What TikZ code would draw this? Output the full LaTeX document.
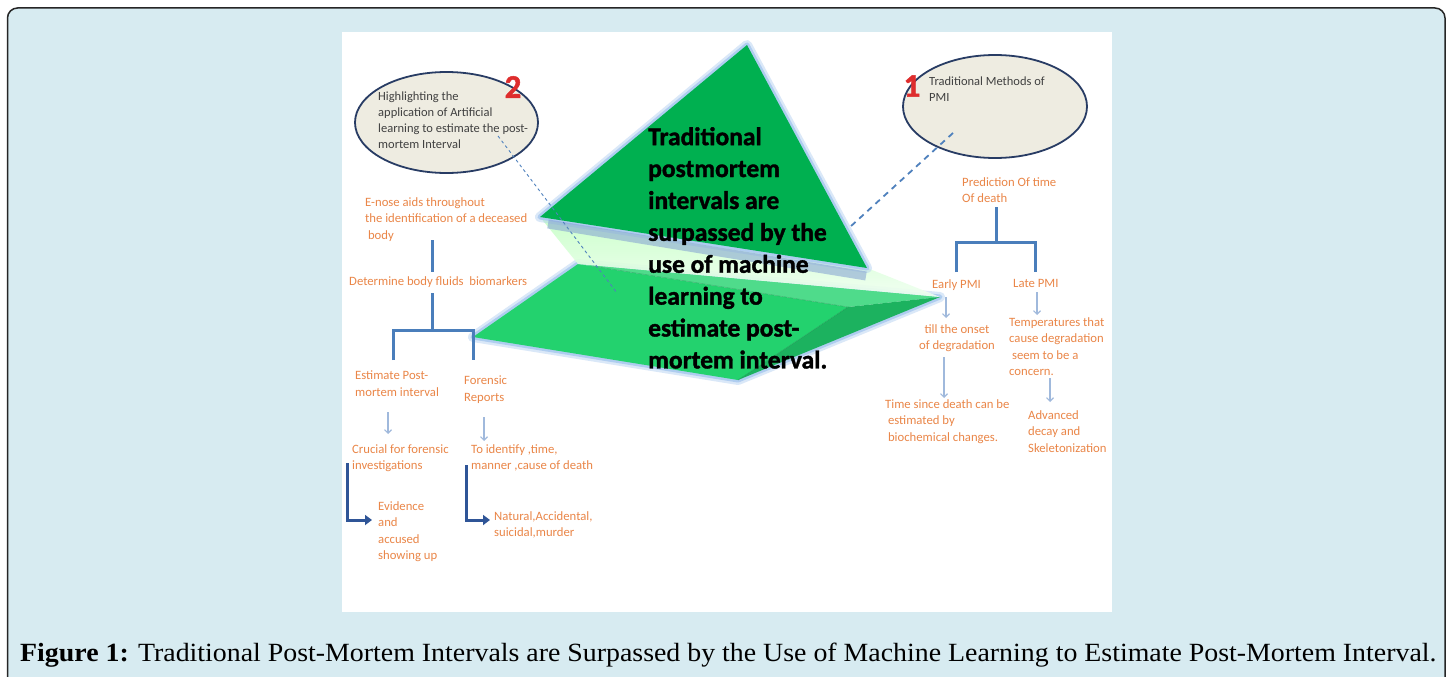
\documentclass[tikz,border=0pt]{standalone}
\usepackage{fontspec}
\setmainfont{Carlito}
\newfontfamily\msgfont{Carlito}[BoldFeatures={FakeBold=1.4}]
\newfontfamily\capfont{Liberation Serif}
\usepackage{graphicx}
\usetikzlibrary{arrows.meta,positioning,shapes.geometric}

\definecolor{framebg}{RGB}{215,235,241}
\definecolor{orangetxt}{RGB}{234,134,72}
\definecolor{bracketblue}{RGB}{74,126,187}
\definecolor{thinblue}{RGB}{160,185,220}
\definecolor{elbowblue}{RGB}{47,85,151}
\definecolor{ellfill}{RGB}{238,236,225}
\definecolor{elldraw}{RGB}{40,60,100}
\definecolor{dashblue}{RGB}{79,129,189}
\definecolor{numred}{RGB}{222,45,45}
\definecolor{greenA}{RGB}{0,176,80}
\definecolor{greenB}{RGB}{35,210,110}
\definecolor{greenC}{RGB}{28,178,95}
\definecolor{glowblue}{RGB}{175,205,240}
\definecolor{shadeblue}{RGB}{130,160,210}

\tikzset{
  otxt/.style={font=\fontsize{12.7}{16.5}\selectfont, text=orangetxt, align=left, inner sep=0, anchor=north west},
  etxt/.style={font=\fontsize{12.5}{16}\selectfont, text=black!75, align=left, inner sep=0, anchor=north west},
  ctext/.style={font=\fontsize{25.5}{31.9}\msgfont\bfseries, align=left, inner sep=0, anchor=north west},
  numtxt/.style={font=\fontsize{33}{33}\msgfont\bfseries, text=numred, inner sep=0},
  ell/.style={ellipse, draw=elldraw, fill=ellfill, line width=1.8pt, inner sep=0},
  brk/.style={bracketblue, line width=3pt},
  tarrow/.style={thinblue, line width=1.1pt, -{Straight Barb[length=3.5pt,width=7pt]}},
  elbow/.style={elbowblue, line width=3pt, -{Triangle[length=7pt,width=10pt]}},
  glow/.style={glowblue, line width=10pt, line join=round, opacity=.45},
  glowin/.style={glowblue, line width=5pt, line join=round},
}

\begin{document}
\begin{tikzpicture}[x=1pt,y=-1pt]
\useasboundingbox (0,0) rectangle (1448,677);
\fill[white] (0,0) rectangle (1448,677);

% frame and white panel
\draw[rounded corners=10pt, fill=framebg, draw=black!85, line width=1.5pt] (7.5,8) rectangle (1445,690);
\fill[white] (342,32) rectangle (1112,612);

% ---- central prism ----
% lower block
\draw[glow] (473,337) -- (578,264) -- (940,297) -- (738,380) -- cycle;
\draw[glowin] (473,337) -- (578,264) -- (940,297) -- (738,380) -- cycle;
\fill[greenB] (473,337) -- (578,264) -- (848,307) -- (738,380) -- cycle;
\fill[greenB!80!white] (578,264) -- (940,297) -- (848,307) -- cycle;
\fill[greenC] (848,307) -- (940,297) -- (738,380) -- cycle;
\draw[greenC!80!black, opacity=.45, line width=.6pt] (592,266) -- (848,307) -- (738,380);
% pale band between the two parts
\shade[top color=green!22!white, bottom color=green!6!white, opacity=.9] (540,217) -- (867,268) -- (940,297) -- (578,264) -- cycle;
% upper triangle
\draw[glow] (540,217) -- (747,45) -- (867,268) -- cycle;
\draw[glowin] (540,217) -- (747,45) -- (867,268) -- cycle;
\draw[shadeblue, line width=9pt, opacity=.55] (548,224) -- (866,276);
\fill[greenA] (540,217) -- (747,45) -- (867,268) -- cycle;

% dashed leaders to the ovals
\coordinate (d2a) at (498,136);
\coordinate (d2b) at (617,293);
\coordinate (d1a) at (953,133);
\coordinate (d1b) at (850,227);

% ovals
\node[ell, minimum width=183pt, minimum height=101pt] (oval2) at (446.5,122.5) {};
\node[ell, minimum width=184pt, minimum height=103pt] (oval1) at (995,106.5) {};
\node[etxt] (hl) at (378,92) {Highlighting the\\application of Artificial\\learning to estimate the post-\\mortem Interval};
\node[etxt] (trad) at (929,77) {Traditional Methods of\\PMI};
\node[numtxt] (n2) at (513,87) {2};
\node[numtxt] (n1) at (912,86) {1};

\draw[dashblue, line width=.9pt, dash pattern=on 3pt off 3pt] (d2a) -- (d2b);
\draw[dashblue, line width=1.8pt, dash pattern=on 6pt off 5pt] (d1a) -- (d1b);

% central statement
\node[ctext] (msg) at (648,127) {Traditional\\postmortem\\intervals are\\surpassed by the\\use of machine\\learning to\\estimate post-\\mortem interval.};

% ---- left tree ----
\node[otxt] (enose) at (365,197) {E-nose aids throughout\\the identification of a deceased\\\ body};
\node[otxt] (fluids) at (349,276) {Determine body fluids\ \ biomarkers};
\node[otxt] (estpmi) at (355,371) {Estimate Post-\\mortem interval};
\node[otxt] (reports) at (464,376) {Forensic\\Reports};
\node[otxt] (crucial) at (352,444) {Crucial for forensic\\investigations};
\node[otxt] (identify) at (471,444) {To identify ,time,\\manner ,cause of death};
\node[otxt] (evidence) at (378,501) {Evidence\\and\\accused\\showing up};
\node[otxt] (manner) at (494,511) {Natural,Accidental,\\suicidal,murder};

\coordinate (l1) at (432,240);
\coordinate (l2) at (432,272);
\coordinate (l3) at (432,293);
\coordinate (l4) at (432,330);
\coordinate (lL) at (393,330);
\coordinate (lR) at (473,330);
\coordinate (lLd) at (393,360);
\coordinate (lRd) at (473,360);
\draw[brk] (l1) -- (l2);
\draw[brk] (l3) -- (l4);
\draw[brk, line cap=butt] (lLd) -- (lL) -- (lR) -- (lRd);

\coordinate (a1) at (388,412);
\coordinate (a1e) at (388,434);
\coordinate (a2) at (484,417);
\coordinate (a2e) at (484,441);
\draw[tarrow] (a1) -- (a1e);
\draw[tarrow] (a2) -- (a2e);

\coordinate (e1) at (347,463);
\coordinate (e1e) at (372,520);
\coordinate (e2) at (466,465);
\coordinate (e2e) at (490,520);
\draw[elbow] (e1) |- (e1e);
\draw[elbow] (e2) |- (e2e);

% ---- right tree ----
\node[otxt] (predict) at (962,177) {Prediction Of time\\Of death};
\node[otxt] (early) at (932,279) {Early PMI};
\node[otxt] (late) at (1013,279) {Late PMI};
\node[otxt, align=center, anchor=north] (onset) at (957,324) {till the onset\\of degradation};
\node[otxt] (since) at (885,399) {Time since death can be\\\ estimated by\\\ biochemical changes.};
\node[otxt] (temps) at (1009,317) {Temperatures that\\cause degradation\\\ seem to be a\\concern.};
\node[otxt] (decay) at (1028,410) {Advanced\\decay and\\Skeletonization};

\coordinate (r1) at (996,207);
\coordinate (r2) at (996,242);
\coordinate (rL) at (956,242);
\coordinate (rR) at (1035,242);
\coordinate (rLd) at (956,272);
\coordinate (rRd) at (1035,272);
\draw[brk] (r1) -- (r2);
\draw[brk, line cap=butt] (rLd) -- (rL) -- (rR) -- (rRd);

\coordinate (b1) at (946,297);
\coordinate (b1e) at (946,318);
\coordinate (b2) at (944,357);
\coordinate (b2e) at (944,398);
\coordinate (b3) at (1037,292);
\coordinate (b3e) at (1037,315);
\coordinate (b4) at (1050,378);
\coordinate (b4e) at (1050,402);
\draw[tarrow] (b1) -- (b1e);
\draw[tarrow] (b2) -- (b2e);
\draw[tarrow] (b3) -- (b3e);
\draw[tarrow] (b4) -- (b4e);

% caption
\node[anchor=base west, inner sep=0] (cap) at (20,661) {\resizebox{1416pt}{18.5pt}{\capfont\textbf{Figure 1:} Traditional Post-Mortem Intervals are Surpassed by the Use of Machine Learning to Estimate Post-Mortem Interval.}};
\end{tikzpicture}
\end{document}
